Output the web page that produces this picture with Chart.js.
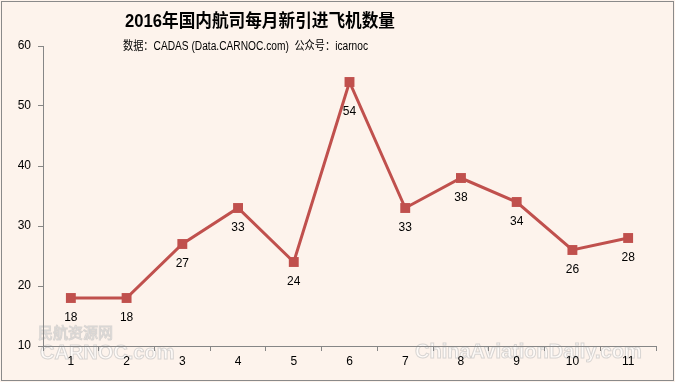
<!DOCTYPE html>
<html><head><meta charset="utf-8">
<script src="https://cdn.jsdelivr.net/npm/chart.js@4"></script>
<style>html,body{margin:0;padding:0;background:#fdf3ec;}#wrap{width:675px;height:382px;}</style>
</head><body><div id="wrap"><canvas id="c" width="675" height="382"></canvas></div>
<script>
const months = ['1','2','3','4','5','6','7','8','9','10','11'];
const newAircraft = [18,18,27,33,24,54,33,38,34,26,28];
const yTicks = [10,20,30,40,50,60];
const titleText = '2016年国内航司每月新引进飞机数量';
const subtitleText = '数据：CADAS (Data.CARNOC.com)  公众号：icarnoc';

const bgPlugin = {
  id:'bg',
  beforeDraw(chart){
    const ctx = chart.ctx;
    ctx.save();
    ctx.fillStyle = '#fdf3ec';
    ctx.fillRect(0,0,chart.width,chart.height);
    ctx.strokeStyle = '#8a8a8a';
    ctx.lineWidth = 1;
    ctx.strokeRect(1.5,1.5,chart.width-3,chart.height-3);
    // watermarks
    ctx.font = '15px "Noto Sans CJK SC"';
    ctx.fillStyle = 'rgba(255,255,255,0.6)';
    ctx.strokeStyle = 'rgba(180,180,180,0.5)';
    ctx.textBaseline = 'middle';
    ctx.textAlign = 'left';
    ctx.fillText('民航资源网', 38, 332, 98);
    ctx.strokeText('民航资源网', 38, 332, 98);
    ctx.font = 'bold 20px "Liberation Sans"';
    ctx.fillText('CARNOC.com', 40, 353, 166);
    ctx.strokeText('CARNOC.com', 40, 353, 166);
    ctx.fillText('ChinaAviationDaily.com', 415, 352, 232);
    ctx.strokeText('ChinaAviationDaily.com', 415, 352, 232);
    ctx.restore();
  },
  afterDraw(chart){
    const ctx = chart.ctx;
    ctx.save();
    ctx.fillStyle = '#000';
    ctx.textAlign = 'left';
    ctx.textBaseline = 'middle';
    ctx.font = 'bold 18px "Liberation Sans", "Noto Sans CJK SC"';
    ctx.fillText(titleText, 125, 22, 270);
    ctx.font = '12px "Liberation Sans", "Noto Sans CJK SC"';
    ctx.fillText(subtitleText, 123, 47, 245);
    // data labels (below each point)
    const meta = chart.getDatasetMeta(0);
    const maxVal = Math.max(...newAircraft);
    ctx.font = '12px "Liberation Sans", Arial';
    ctx.textAlign = 'center';
    ctx.fillStyle = '#000';
    meta.data.forEach((pt,i)=>{
      const off = newAircraft[i] === maxVal ? 30 : 20;
      ctx.fillText(String(newAircraft[i]), pt.x, pt.y + off);
    });
    ctx.restore();
  }
};

new Chart(document.getElementById('c'), {
  type:'line',
  data:{labels:months, datasets:[{
    data:newAircraft,
    borderColor:'#c0504d',
    backgroundColor:'#c0504d',
    borderWidth:3,
    pointStyle:'rect',
    pointRadius:7,
    pointHoverRadius:7,
    pointBorderWidth:0,
    tension:0,
    fill:false
  }]},
  options:{
    responsive:false,
    animation:false,
    events:[],
    layout:{padding:{left:0,right:19,top:46,bottom:0}},
    plugins:{legend:{display:false},title:{display:false},tooltip:{enabled:false}},
    scales:{
      x:{
        type:'category',
        offset:true,
        grid:{offset:true,drawOnChartArea:false,drawTicks:true,tickLength:5,color:'#868686'},
        border:{display:true,color:'#868686',width:1},
        ticks:{color:'#000',font:{family:'"Liberation Sans", Arial',size:12},padding:3,maxRotation:0},
        afterFit(s){ s.height = 36; }
      },
      y:{
        min:10,max:60,
        afterBuildTicks(s){ s.ticks = yTicks.map(v=>({value:v})); },
        grid:{drawOnChartArea:false,drawTicks:true,tickLength:5,color:'#868686'},
        border:{display:true,color:'#868686',width:1},
        ticks:{color:'#000',font:{family:'"Liberation Sans", Arial',size:12},padding:7},
        afterFit(s){ s.width = 43; }
      }
    }
  },
  plugins:[bgPlugin]
});
</script></body></html>
